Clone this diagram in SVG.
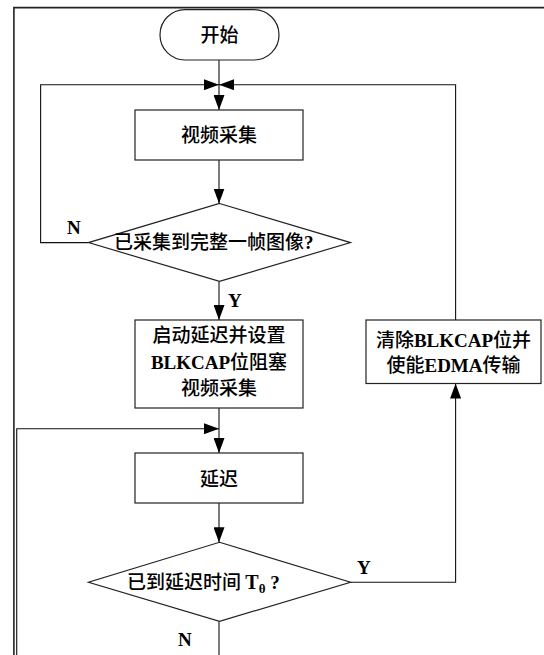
<svg xmlns="http://www.w3.org/2000/svg" width="544" height="655" viewBox="0 0 544 655">
<defs>
<style>
.shape{fill:#fff;stroke:#222;stroke-width:1.2}
.conn{fill:none;stroke:#111;stroke-width:1.1}
.frame{fill:none;stroke:#222;stroke-width:1.6}
.cn{font-family:"Noto Sans CJK SC","Noto Sans",sans-serif;font-size:19px;font-weight:500;fill:#000}
.en{font-family:"Liberation Serif",serif;font-weight:bold}
.lbl{font-family:"Liberation Serif",serif;font-weight:bold;font-size:19px;fill:#000}
</style>
<marker id="arr" markerUnits="userSpaceOnUse" markerWidth="15" markerHeight="11" refX="15" refY="5.5" orient="auto">
<path d="M0,0 L15,5.5 L0,11 Z" fill="#000"/>
</marker>
</defs>
<rect width="544" height="655" fill="#fff"/>
<path class="frame" d="M13.9,655 V7.6 H544"/>
<g id="connectors">
<path class="conn" d="M219,60 V110" marker-end="url(#arr)"/>
<path class="conn" d="M219,160 V203.5" marker-end="url(#arr)"/>
<path class="conn" d="M88.5,242.6 H40.6 V84.7 H219" marker-end="url(#arr)"/>
<path class="conn" d="M455.6,320 V84.7 H219" marker-end="url(#arr)"/>
<path class="conn" d="M219,281.4 V320" marker-end="url(#arr)"/>
<path class="conn" d="M219,408 V453" marker-end="url(#arr)"/>
<path class="conn" d="M219,503 V542.3" marker-end="url(#arr)"/>
<path class="conn" d="M350.5,582.2 H455.6 V383.5" marker-end="url(#arr)"/>
<path class="conn" d="M219,621.4 V680 H16.7 V428.7 H219" marker-end="url(#arr)"/>
<text class="lbl" x="67" y="234">N</text>
<text class="lbl" x="228" y="307">Y</text>
<text class="lbl" x="357" y="574">Y</text>
<text class="lbl" x="178" y="646">N</text>
</g>
<g id="start">
<rect class="shape" x="160" y="9.7" width="119" height="50.3" rx="25"/>
<text class="cn" x="219.5" y="41.5" text-anchor="middle" font-size="20">开始</text>
</g>
<g id="capture">
<rect class="shape" x="135" y="110" width="168" height="50"/>
<text class="cn" x="219" y="142" text-anchor="middle">视频采集</text>
</g>
<g id="frameDone">
<path class="shape" d="M219.5,203.5 L350.5,242.6 L219.5,281.4 L88.5,242.6 Z"/>
<text class="cn" x="114" y="249">已采集到完整一帧图像<tspan class="en">?</tspan></text>
</g>
<g id="startDelay">
<rect class="shape" x="135" y="320" width="168" height="88"/>
<text class="cn" x="219" y="342" text-anchor="middle">启动延迟并设置</text>
<text class="cn" x="219" y="369" text-anchor="middle"><tspan class="en">BLKCAP</tspan>位阻塞</text>
<text class="cn" x="219" y="395" text-anchor="middle">视频采集</text>
</g>
<g id="delay">
<rect class="shape" x="135" y="453" width="168" height="50"/>
<text class="cn" x="219" y="486" text-anchor="middle">延迟</text>
</g>
<g id="timeReached">
<path class="shape" d="M219.5,542.3 L350.5,582.2 L219.5,621.4 L88.5,582.2 Z"/>
<text class="cn" x="127" y="589">已到延迟时间 <tspan class="en" font-size="20">T</tspan><tspan class="en" font-size="13" dy="4">θ</tspan><tspan dy="-4" class="en">  ?</tspan></text>
</g>
<g id="clearBlk">
<rect class="shape" x="366" y="320" width="175" height="63.5"/>
<text class="cn" x="453.5" y="347" text-anchor="middle">清除<tspan class="en">BLKCAP</tspan>位并</text>
<text class="cn" x="453.5" y="372" text-anchor="middle">使能<tspan class="en">EDMA</tspan>传输</text>
</g>
</svg>
